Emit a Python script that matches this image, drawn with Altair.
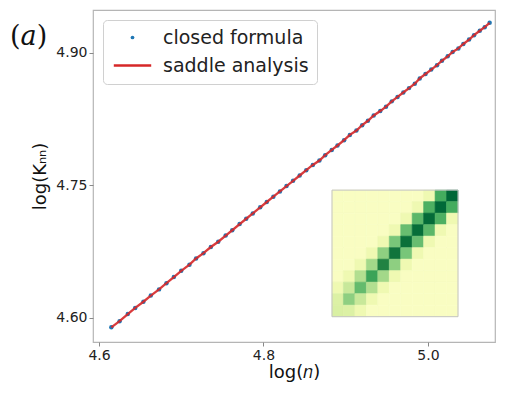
import altair as alt
import pandas as pd

# x values: log(n) for n = 101 .. 160
log_n = [4.615, 4.625, 4.635, 4.644, 4.654, 4.663, 4.673, 4.682, 4.691, 4.700,
         4.710, 4.718, 4.727, 4.736, 4.745, 4.754, 4.762, 4.771, 4.779, 4.787,
         4.796, 4.804, 4.812, 4.820, 4.828, 4.836, 4.844, 4.852, 4.860, 4.868,
         4.875, 4.883, 4.890, 4.898, 4.905, 4.913, 4.920, 4.927, 4.934, 4.942,
         4.949, 4.956, 4.963, 4.970, 4.977, 4.984, 4.990, 4.997, 5.004, 5.011,
         5.017, 5.024, 5.030, 5.037, 5.043, 5.050, 5.056, 5.063, 5.069, 5.075]
log_knn = [4.589, 4.596, 4.604, 4.611, 4.618, 4.625, 4.632, 4.639, 4.646, 4.653,
           4.660, 4.667, 4.673, 4.680, 4.686, 4.693, 4.699, 4.706, 4.712, 4.718,
           4.725, 4.731, 4.737, 4.743, 4.749, 4.755, 4.761, 4.767, 4.773, 4.778,
           4.784, 4.790, 4.795, 4.801, 4.807, 4.812, 4.818, 4.823, 4.829, 4.834,
           4.839, 4.845, 4.850, 4.855, 4.860, 4.865, 4.871, 4.876, 4.881, 4.886,
           4.891, 4.896, 4.901, 4.905, 4.910, 4.915, 4.920, 4.925, 4.929, 4.934]

series_names = ["closed formula", "saddle analysis"]
series_colors = ["#1f77b4", "#d62728"]
x_ticks = [4.6, 4.8, 5.0]
y_ticks = [4.60, 4.75, 4.90]

# inset matrix, rows listed top to bottom
heat_rows = [
    [0.10, 0.10, 0.10, 0.10, 0.10, 0.10, 0.10, 0.10, 0.16, 0.62, 0.88],
    [0.10, 0.10, 0.10, 0.10, 0.10, 0.10, 0.10, 0.16, 0.60, 0.87, 0.62],
    [0.10, 0.10, 0.10, 0.10, 0.10, 0.10, 0.16, 0.57, 0.86, 0.60, 0.16],
    [0.10, 0.10, 0.10, 0.10, 0.10, 0.16, 0.54, 0.85, 0.57, 0.16, 0.10],
    [0.10, 0.10, 0.10, 0.10, 0.16, 0.50, 0.84, 0.54, 0.16, 0.10, 0.10],
    [0.10, 0.10, 0.10, 0.16, 0.45, 0.82, 0.50, 0.16, 0.10, 0.10, 0.10],
    [0.10, 0.10, 0.16, 0.40, 0.76, 0.45, 0.16, 0.10, 0.10, 0.10, 0.10],
    [0.10, 0.16, 0.36, 0.65, 0.40, 0.16, 0.10, 0.10, 0.10, 0.10, 0.10],
    [0.16, 0.30, 0.55, 0.36, 0.16, 0.10, 0.10, 0.10, 0.10, 0.10, 0.10],
    [0.24, 0.45, 0.30, 0.16, 0.10, 0.10, 0.10, 0.10, 0.10, 0.10, 0.10],
    [0.25, 0.24, 0.16, 0.10, 0.10, 0.10, 0.10, 0.10, 0.10, 0.10, 0.10],
]
ylgn_stops = [0, 0.125, 0.25, 0.375, 0.5, 0.625, 0.75, 0.875, 1.0]
ylgn_colors = ["#ffffe5", "#f7fcb9", "#d9f0a3", "#addd8e", "#78c679",
               "#41ab5d", "#238443", "#006837", "#004529"]

df = pd.DataFrame({"log_n": log_n, "log_knn": log_knn})
df_pts = df.assign(series="closed formula")

nrows = len(heat_rows)
cells = []
for i, row in enumerate(heat_rows):
    r = nrows - 1 - i
    for c, v in enumerate(row):
        cells.append({"c0": c, "c1": c + 1, "r0": r, "r1": r + 1, "v": v})
heat_df = pd.DataFrame(cells)
ncols = len(heat_rows[0])
frame_df = pd.DataFrame({"c0": [0], "c1": [ncols], "r0": [0], "r1": [nrows]})

W, H = 402, 332
xscale = alt.Scale(domain=[4.5927, 5.0815], nice=False, zero=False)
yscale = alt.Scale(domain=[4.5724, 4.9485], nice=False, zero=False)

line_path = "M-10,-0.62L10,-0.62L10,0.62L-10,0.62Z"

legend = alt.Legend(
    title=None, orient="top-left", offset=10, fillColor="white",
    strokeColor="#d0d0d0", cornerRadius=4, padding=8,
    labelFontSize=19, labelColor="#222222", symbolSize=14,
    labelOffset=21, symbolOffset=12, rowPadding=8, symbolStrokeWidth=0,
    labelExpr="datum.label + '\u00a0'",
)

points = alt.Chart(df_pts).mark_point(filled=True, size=20, opacity=1).encode(
    x=alt.X("log_n:Q", scale=xscale,
            axis=alt.Axis(values=x_ticks, format=".1f", title="log(𝑛)")),
    y=alt.Y("log_knn:Q", scale=yscale,
            axis=alt.Axis(values=y_ticks, format=".2f", title="log(Kₙₙ)")),
    color=alt.Color("series:N", scale=alt.Scale(domain=series_names, range=series_colors), legend=legend),
    shape=alt.Shape("series:N", scale=alt.Scale(domain=series_names, range=["circle", line_path]), legend=legend),
)

line = alt.Chart(df).mark_line(strokeWidth=2.3, color="#d62728", opacity=0.9).encode(
    x=alt.X("log_n:Q", scale=xscale),
    y=alt.Y("log_knn:Q", scale=yscale),
)

label_a = alt.Chart(pd.DataFrame({"t": ["(𝑎)"]})).mark_text(
    font="DejaVu Serif", fontSize=27, align="left", baseline="middle", color="#111111"
).encode(text="t:N", x=alt.value(-83), y=alt.value(27))

main = alt.layer(points, line, label_a)

hx = alt.Scale(domain=[-20.865, 14.23], nice=False, zero=False)
hy = alt.Scale(domain=[-2.2, 26.654], nice=False, zero=False)
heat_color = alt.Scale(domain=ylgn_stops, range=ylgn_colors)

heat = alt.Chart(heat_df).mark_rect(strokeWidth=0.6).encode(
    x=alt.X("c0:Q", scale=hx, axis=None),
    x2="c1:Q",
    y=alt.Y("r0:Q", scale=hy, axis=None),
    y2="r1:Q",
    fill=alt.Fill("v:Q", scale=heat_color, legend=None),
    stroke=alt.Stroke("v:Q", scale=heat_color, legend=None),
)
frame = alt.Chart(frame_df).mark_rect(fill=None, stroke="#c4c4c4", strokeWidth=1).encode(
    x=alt.X("c0:Q", scale=hx, axis=None),
    x2="c1:Q",
    y=alt.Y("r0:Q", scale=hy, axis=None),
    y2="r1:Q",
)
inset = alt.layer(heat, frame)

chart = alt.layer(main, inset).resolve_scale(x="independent", y="independent").properties(
    width=W, height=H,
    autosize=alt.AutoSizeParams(type="none"),
    padding={"left": 85, "top": 2, "right": 2, "bottom": 40},
).configure(font="DejaVu Sans").configure_view(
    stroke="#b5b5b5", strokeWidth=1.2
).configure_axis(
    domain=False, grid=False, ticks=True, tickSize=4, tickColor="#888888",
    labelFontSize=14, labelColor="#222222", labelPadding=2,
    titleFontSize=18, titleFontWeight="normal", titleColor="#111111",
).configure_axisY(titlePadding=6).configure_axisX(titlePadding=1)

chart.save("out.html", embed_options={"renderer": "svg", "actions": False})
